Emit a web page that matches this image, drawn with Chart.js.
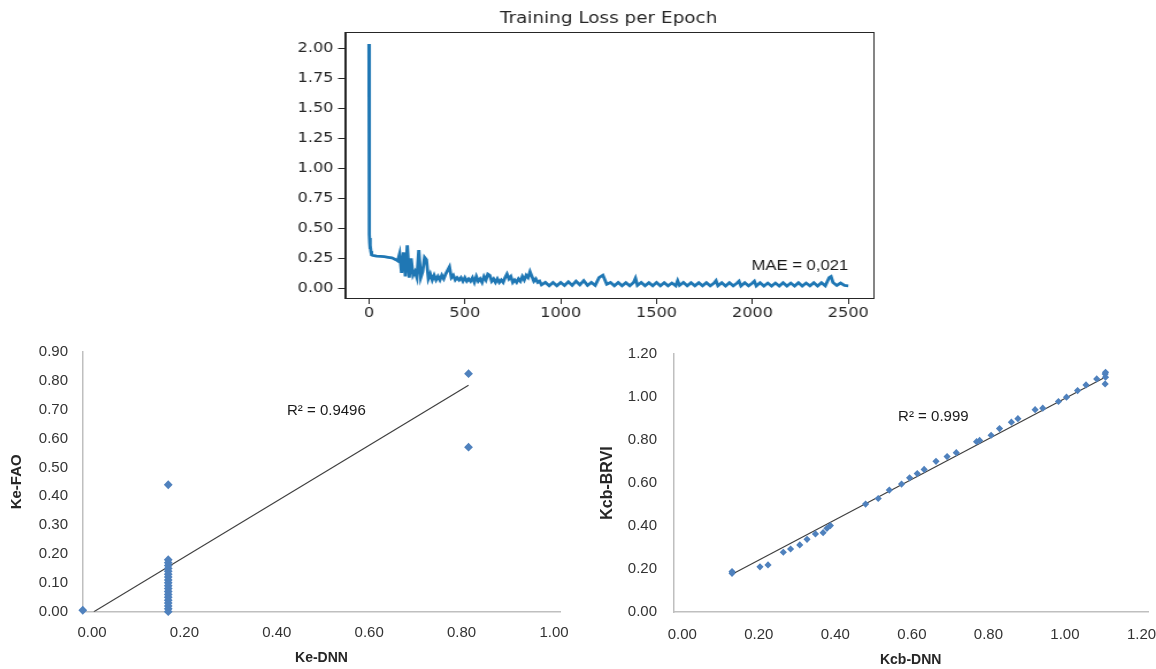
<!DOCTYPE html>
<html>
<head>
<meta charset="utf-8">
<title>Training Loss and DNN scatter plots</title>
<script src="https://cdn.jsdelivr.net/npm/chart.js@4.4.0/dist/chart.umd.min.js"></script>
<style>
  body { margin: 0; background: #fff; }
  #wrap { position: relative; width: 1156px; height: 669px; overflow: hidden; }
  canvas { position: absolute; }
  /* the loss plot in the source is a screenshot stretched sideways */
  #lossCanvas { transform: scaleX(1.15); transform-origin: 0 0; }
</style>
</head>
<body>
<div id="wrap">
  <canvas id="lossCanvas" width="539" height="330" style="left:280px; top:0px;"></canvas>
  <canvas id="keCanvas" width="580" height="329" style="left:0px; top:340px;"></canvas>
  <canvas id="kcbCanvas" width="576" height="329" style="left:580px; top:340px;"></canvas>
</div>
<script>
// top chart: training loss per epoch
var lossEpochs = [0, 1, 2, 3, 4, 5, 6, 8, 10, 12, 15, 20, 40, 60, 80, 100, 120, 140, 150,
    160, 170, 180, 190, 200, 210, 220, 230, 240, 250, 260, 270, 280, 290, 300, 310, 320, 330, 340, 350,
    360, 370, 380, 390, 400, 410, 420, 430, 440, 450, 460, 470, 480, 490, 500, 510, 520, 530, 540, 550,
    560, 570, 580, 590, 600, 610, 620, 630, 640, 650, 660, 670, 680, 690, 700, 710, 720, 730, 740, 750,
    760, 770, 780, 790, 800, 810, 820, 830, 840, 850, 860, 870, 880, 890, 900,
    920, 940, 960, 980, 1000, 1020, 1040, 1060, 1080, 1100, 1120, 1140, 1160, 1180, 1200, 1220, 1240,
    1260, 1280, 1300, 1320, 1340, 1360, 1380, 1390, 1400, 1420, 1440, 1460, 1480, 1500, 1520, 1540,
    1560, 1580, 1600, 1610, 1620, 1640, 1660, 1680, 1700, 1720, 1740, 1760, 1780, 1800, 1810, 1820,
    1840, 1860, 1880, 1900, 1920, 1930, 1940, 1960, 1980, 2000, 2010, 2020, 2040, 2060, 2080, 2100,
    2120, 2140, 2160, 2180, 2200, 2220, 2240, 2260, 2280, 2300, 2320, 2340, 2360, 2380, 2400, 2410,
    2420, 2440, 2460, 2480, 2500];
var lossValues = [2.04, 1.2, 0.6, 0.45, 0.38, 0.42, 0.33, 0.36, 0.31, 0.29, 0.28, 0.275, 0.27, 0.268, 0.265, 0.26, 0.255, 0.24, 0.23,
    0.29, 0.13, 0.30, 0.10, 0.36, 0.09, 0.25, 0.11, 0.14, 0.09, 0.32, 0.09, 0.14, 0.26, 0.24, 0.08, 0.12, 0.07, 0.11, 0.07,
    0.10, 0.07, 0.11, 0.08, 0.12, 0.15, 0.18, 0.09, 0.11, 0.07, 0.09, 0.07, 0.09, 0.06, 0.09, 0.06, 0.08, 0.06, 0.09, 0.05,
    0.10, 0.06, 0.08, 0.05, 0.10, 0.07, 0.12, 0.11, 0.06, 0.08, 0.05, 0.08, 0.05, 0.07, 0.05, 0.09, 0.12, 0.08, 0.10, 0.05,
    0.07, 0.05, 0.08, 0.06, 0.10, 0.07, 0.11, 0.09, 0.14, 0.10, 0.06, 0.08, 0.05, 0.06, 0.03,
    0.05, 0.022, 0.05, 0.022, 0.05, 0.025, 0.055, 0.025, 0.06, 0.03, 0.065, 0.025, 0.05, 0.025, 0.09, 0.11, 0.035,
    0.05, 0.022, 0.05, 0.022, 0.048, 0.022, 0.05, 0.085, 0.025, 0.05, 0.022, 0.048, 0.022, 0.05, 0.022, 0.048,
    0.022, 0.045, 0.022, 0.065, 0.025, 0.05, 0.022, 0.048, 0.022, 0.048, 0.022, 0.048, 0.022, 0.045, 0.065, 0.022,
    0.048, 0.02, 0.048, 0.022, 0.045, 0.06, 0.02, 0.048, 0.022, 0.045, 0.06, 0.02, 0.048, 0.02, 0.045, 0.02,
    0.045, 0.02, 0.048, 0.02, 0.045, 0.02, 0.048, 0.02, 0.045, 0.022, 0.048, 0.02, 0.048, 0.022, 0.09, 0.10,
    0.05, 0.025, 0.045, 0.025, 0.022];
var lossXTicks = [0, 500, 1000, 1500, 2000, 2500];
var lossYTicks = [0, 0.25, 0.5, 0.75, 1.0, 1.25, 1.5, 1.75, 2.0];
var maeText = "MAE = 0,021";

// bottom left: Ke-DNN vs Ke-FAO
var keDnn = [-0.02, -0.02, 0.165, 0.165, 0.165, 0.165, 0.165, 0.165, 0.165, 0.165, 0.165, 0.165, 0.165, 0.165,
    0.165, 0.165, 0.165, 0.165, 0.165, 0.165, 0.165, 0.165, 0.815, 0.815];
var keFao = [0, 0.005, 0.00, 0.01, 0.02, 0.03, 0.04, 0.05, 0.06, 0.07, 0.08, 0.09, 0.10, 0.11, 0.12,
    0.13, 0.14, 0.15, 0.16, 0.17, 0.18, 0.44, 0.825, 0.57];
var keFitX = [0.004, 0.815];
var keFitY = [0, 0.785];
var keXTicks = [0, 0.2, 0.4, 0.6, 0.8, 1.0];
var keYTicks = [0, 0.1, 0.2, 0.3, 0.4, 0.5, 0.6, 0.7, 0.8, 0.9];
var keR2 = "R\u00b2 = 0.9496";

// bottom right: Kcb-DNN vs Kcb-BRVI
var kcbDnn = [0.13, 0.13, 0.203, 0.224, 0.264, 0.283, 0.307, 0.326, 0.348, 0.368, 0.378, 0.387, 0.479,
    0.512, 0.541, 0.573, 0.594, 0.614, 0.632, 0.663, 0.692, 0.716, 0.769, 0.777, 0.807, 0.829, 0.860,
    0.877, 0.922, 0.942, 0.983, 1.004, 1.033, 1.055, 1.083, 1.105, 1.106, 1.106, 1.105];
var kcbBrvi = [0.188, 0.18, 0.21, 0.219, 0.278, 0.293, 0.312, 0.338, 0.363, 0.369, 0.389, 0.402, 0.502,
    0.528, 0.567, 0.595, 0.624, 0.644, 0.663, 0.701, 0.723, 0.741, 0.792, 0.798, 0.822, 0.853, 0.883,
    0.899, 0.941, 0.948, 0.979, 0.999, 1.030, 1.056, 1.084, 1.107, 1.115, 1.092, 1.061];
var kcbFitX = [0.13, 1.10];
var kcbFitY = [0.176, 1.087];
var kcbXTicks = [0, 0.2, 0.4, 0.6, 0.8, 1.0, 1.2];
var kcbYTicks = [0, 0.2, 0.4, 0.6, 0.8, 1.0, 1.2];
var kcbR2 = "R\u00b2 = 0.999";

function pairUp(xs, ys)
{
    return xs.map(function(x, i) { return { x: x, y: ys[i] }; });
}

function fixedTicks(list)
{
    return function(scale) { scale.ticks = list.map(function(v) { return { value: v }; }); };
}

// fixed axis box, no extra room for overhanging labels
function boxSize(w, h)
{
    return function(s)
    {
        if (w !== null) s.width = w;
        if (h !== null) s.height = h;
        s.paddingLeft = 0; s.paddingRight = 0; s.paddingTop = 0; s.paddingBottom = 0;
    };
}

// draws a note at data coordinates of the chart
function notePlugin(text, xv, yv, font, align)
{
    return {
        id: 'note',
        afterDatasetsDraw: function(chart)
        {
            var ctx = chart.ctx;
            ctx.save();
            ctx.font = font;
            ctx.fillStyle = '#1a1a1a';
            ctx.textAlign = align;
            ctx.textBaseline = 'middle';
            ctx.fillText(text, chart.scales.x.getPixelForValue(xv), chart.scales.y.getPixelForValue(yv));
            ctx.restore();
        }
    };
}

var framePlugin = {
    id: 'frame',
    afterDraw: function(chart)
    {
        var a = chart.chartArea, ctx = chart.ctx;
        ctx.save();
        ctx.strokeStyle = '#262626';
        ctx.lineWidth = 1;
        ctx.strokeRect(Math.round(a.left) + 0.5, Math.round(a.top) + 0.5, Math.round(a.right - a.left), Math.round(a.bottom - a.top));
        ctx.restore();
    }
};

var mplFont = { family: 'DejaVu Sans', size: 14 };
var xlFont = { family: 'Liberation Sans', size: 15 };

new Chart(document.getElementById("lossCanvas"),
{
    type: 'line',
    data:
    {
        datasets:
        [{
            data: pairUp(lossEpochs, lossValues),
            borderColor: '#1f77b4',
            borderWidth: 2.8,
            pointRadius: 0,
            tension: 0,
            fill: false
        }]
    },
    options:
    {
        responsive: false,
        animation: false,
        devicePixelRatio: 1,
        layout: { padding: { left: 0, right: 24, top: 0, bottom: 0 } },
        plugins:
        {
            legend: { display: false },
            tooltip: { enabled: false },
            title:
            {
                display: true,
                text: 'Training Loss per Epoch',
                fullSize: false,
                color: '#262626',
                font: { family: 'DejaVu Sans', size: 16, weight: 'normal' },
                padding: { top: 9, bottom: 3.8 }
            }
        },
        scales:
        {
            x:
            {
                type: 'linear',
                min: -125,
                max: 2625,
                afterBuildTicks: fixedTicks(lossXTicks),
                afterFit: boxSize(null, 32),
                grid: { drawOnChartArea: false, tickLength: 6, color: '#262626' },
                border: { color: '#262626' },
                ticks: { font: mplFont, color: '#262626', padding: 1, maxRotation: 0,
                         callback: function(v) { return String(v); } }
            },
            y:
            {
                type: 'linear',
                min: -0.08,
                max: 2.14,
                afterBuildTicks: fixedTicks(lossYTicks),
                afterFit: boxSize(56.5, null),
                grid: { drawOnChartArea: false, tickLength: 6, color: '#262626' },
                border: { color: '#262626' },
                ticks: { font: mplFont, color: '#262626', padding: 4,
                         callback: function(v) { return v.toFixed(2); } }
            }
        }
    },
    plugins: [framePlugin, notePlugin(maeText, 2500, 0.19, '14.5px "Liberation Sans"', 'right')]
});

function excelScatter(canvasId, px, py, fx, fy, opt)
{
    return new Chart(document.getElementById(canvasId),
    {
        type: 'scatter',
        data:
        {
            datasets:
            [{
                data: pairUp(px, py),
                pointStyle: 'rectRot',
                pointRadius: opt.marker,
                backgroundColor: '#4f81bd',
                borderColor: '#4f81bd',
                borderWidth: 0,
                clip: false
            },
            {
                type: 'line',
                data: pairUp(fx, fy),
                borderColor: '#3f3f3f',
                borderWidth: 1.2,
                pointRadius: 0,
                fill: false
            }]
        },
        options:
        {
            responsive: false,
            animation: false,
            devicePixelRatio: 1,
            layout: { padding: { left: 0, right: opt.padRight, top: opt.padTop, bottom: 0 } },
            plugins: { legend: { display: false }, tooltip: { enabled: false } },
            scales:
            {
                x:
                {
                    type: 'linear',
                    min: opt.xMin,
                    max: opt.xMax,
                    afterBuildTicks: fixedTicks(opt.xTicks),
                    afterFit: boxSize(null, opt.xHeight),
                    grid: { display: false, drawTicks: false },
                    border: { display: true, color: '#bfbfbf', width: 1.5 },
                    ticks: { font: xlFont, color: '#333333', padding: opt.xPad, maxRotation: 0,
                             callback: function(v) { return v.toFixed(2); } },
                    title: { display: true, text: opt.xTitle, color: '#262626',
                             font: { family: 'Liberation Sans', size: 14, weight: 'bold' },
                             padding: { top: 0, bottom: opt.xTitlePad } }
                },
                y:
                {
                    type: 'linear',
                    min: 0,
                    max: opt.yMax,
                    afterBuildTicks: fixedTicks(opt.yTicks),
                    afterFit: boxSize(opt.yWidth, null),
                    grid: { display: false, drawTicks: false },
                    border: { display: true, color: '#bfbfbf', width: 1.5 },
                    ticks: { font: xlFont, color: '#333333', padding: opt.yPad,
                             callback: function(v) { return v.toFixed(2); } },
                    title: { display: true, text: opt.yTitle, color: '#262626',
                             font: { family: 'Liberation Sans', size: opt.yTitleSize, weight: 'bold' },
                             padding: { top: opt.yTitlePad, bottom: 0 } }
                }
            }
        },
        plugins: [notePlugin(opt.note, opt.noteX, opt.noteY, '15px "Liberation Sans"', 'left')]
    });
}

excelScatter("keCanvas", keDnn, keFao, keFitX, keFitY,
{
    marker: 4.4, xMin: -0.0195, xMax: 1.013, yMax: 0.9, xTicks: keXTicks, yTicks: keYTicks,
    padRight: 20, padTop: 12, xHeight: 57.3, yWidth: 83, xPad: 12.3, yPad: 15,
    xTitle: 'Ke-DNN', xTitlePad: 2.6, yTitle: 'Ke-FAO', yTitleSize: 15, yTitlePad: 8,
    note: keR2, noteX: 0.422, noteY: 0.695
});

excelScatter("kcbCanvas", kcbDnn, kcbBrvi, kcbFitX, kcbFitY,
{
    marker: 3.6, xMin: -0.0235, xMax: 1.217, yMax: 1.2, xTicks: kcbXTicks, yTicks: kcbYTicks,
    padRight: 8, padTop: 14, xHeight: 57, yWidth: 93.3, xPad: 14, yPad: 16.3,
    xTitle: 'Kcb-DNN', xTitlePad: 0, yTitle: 'Kcb-BRVI', yTitleSize: 16, yTitlePad: 18.4,
    note: kcbR2, noteX: 0.564, noteY: 0.907
});
</script>
</body>
</html>
